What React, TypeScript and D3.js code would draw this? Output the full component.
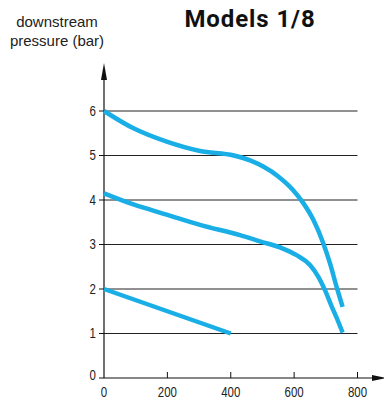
import React from "react";
import * as d3 from "d3";

const title = "Models 1/8";
const yLabelLines = ["downstream", "pressure (bar)"];
const xTicks = [0, 200, 400, 600, 800];
const yTicks = [0, 1, 2, 3, 4, 5, 6];
const gridValues = [1, 2, 3, 4, 5, 6];

const curveA: [number, number][] = [
  [0, 6.0], [93, 5.61], [198, 5.31], [303, 5.1], [410, 5.0], [461, 4.89],
  [548, 4.54], [597, 4.22], [629, 3.93], [661, 3.55], [692, 3.03], [713, 2.58],
  [734, 2.05], [753, 1.6],
];
const curveB: [number, number][] = [
  [0, 4.15], [93, 3.9], [198, 3.67], [303, 3.44], [429, 3.21], [492, 3.07],
  [561, 2.92], [608, 2.76], [650, 2.54], [676, 2.28], [697, 1.98], [719, 1.6],
  [739, 1.27], [753, 1.02],
];
const curveC: [number, number][] = [
  [0, 2.0], [400, 1.0],
];
const series = [curveA, curveB, curveC];

export default function App() {
  const W = 384, H = 400;
  const x = d3.scaleLinear().domain([0, 800]).range([104, 357.5]);
  const y = d3.scaleLinear().domain([0, 6]).range([378, 111]);
  const line = d3
    .line<[number, number]>()
    .x((d) => x(d[0]))
    .y((d) => y(d[1]))
    .curve(d3.curveMonotoneX);
  const tickFont = "'Liberation Sans', Arial, sans-serif";
  const x0 = x(0), y0 = y(0);
  return (
    <svg width={W} height={H} style={{ position: "absolute", left: 0, top: 0 }}>
      <rect width={W} height={H} fill="#fff" />
      <text x={250} y={27} textAnchor="middle" fontFamily="Roboto, 'DejaVu Sans', sans-serif" fontWeight="bold" fontSize={24} letterSpacing={0.9} fill="#111">
        {title}
      </text>
      {yLabelLines.map((t, i) => (
        <text key={t} x={57} y={27 + i * 19} textAnchor="middle" fontFamily="'Liberation Sans', Arial, sans-serif" fontSize={15} fill="#222">
          {t}
        </text>
      ))}
      {gridValues.map((v) => (
        <line key={v} x1={x0} x2={x(800)} y1={y(v)} y2={y(v)} stroke="#222" strokeWidth={1} />
      ))}
      {/* axes */}
      <line x1={x0} x2={x0} y1={y0} y2={78} stroke="#111" strokeWidth={1.2} />
      <path d={`M${x0},63 L${x0 - 3},80 L${x0 + 3},80 Z`} fill="#111" />
      <line x1={x0} x2={376} y1={y0} y2={y0} stroke="#111" strokeWidth={1.2} />
      <path d={`M386,${y0} L372,${y0 - 3} L372,${y0 + 3} Z`} fill="#111" />
      {yTicks.map((v) => (
        <g key={v}>
          <line x1={x0 - 5} x2={x0} y1={y(v)} y2={y(v)} stroke="#111" />
          <g transform={`translate(${x0 - 8},${y(v) - (v === 0 ? 3 : 0)}) scale(0.82,1)`}>
            <text dy="0.35em" textAnchor="end" fontFamily={tickFont} fontSize={14} fill="#222">
              {v}
            </text>
          </g>
        </g>
      ))}
      {xTicks.map((v) => (
        <g key={v}>
          {v > 0 && <line x1={x(v)} x2={x(v)} y1={y0 - 6} y2={y0} stroke="#111" />}
          <g transform={`translate(${x(v)},397) scale(0.82,1)`}>
            <text textAnchor="middle" fontFamily={tickFont} fontSize={14} fill="#222">
              {v}
            </text>
          </g>
        </g>
      ))}
      {series.map((s, i) => (
        <path key={i} d={line(s) || ""} fill="none" stroke="#1aaee6" strokeWidth={4.5} />
      ))}
    </svg>
  );
}
